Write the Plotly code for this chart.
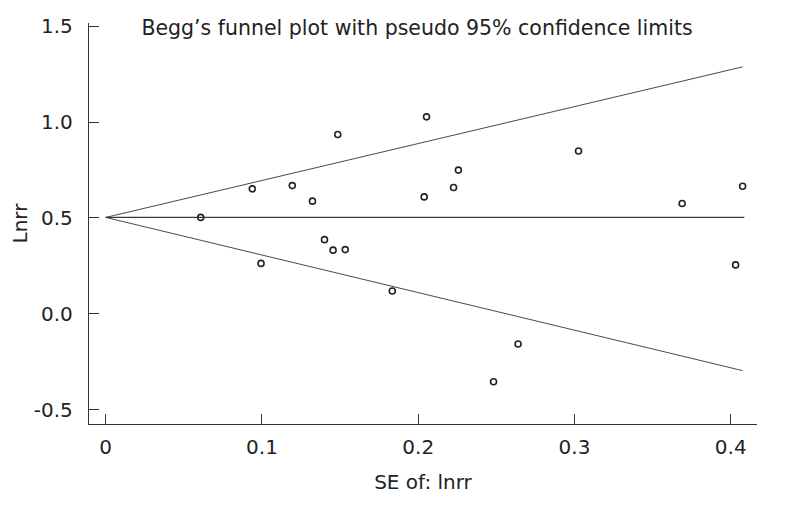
import plotly.graph_objects as go

# study estimates
se = [0.0608, 0.0938, 0.0994, 0.1194, 0.1323, 0.1400, 0.1455, 0.1485, 0.1533, 0.1834,
      0.2038, 0.2053, 0.2226, 0.2257, 0.2482, 0.2639, 0.3026, 0.3689, 0.4031, 0.4076]
lnrr = [0.503, 0.652, 0.263, 0.669, 0.588, 0.387, 0.332, 0.936, 0.335, 0.119,
        0.610, 1.028, 0.659, 0.750, -0.355, -0.158, 0.850, 0.576, 0.255, 0.666]

# pooled estimate and pseudo 95% limits
pooled_se = [0.0, 0.4087]
pooled_val = [0.503, 0.503]
limit_se = [0.0, 0.4076]
upper_limit = [0.503, 1.289]
lower_limit = [0.503, -0.297]

x_ticks = [0, 0.1, 0.2, 0.3, 0.4]
x_tick_text = ["0", "0.1", "0.2", "0.3", "0.4"]
y_ticks = [-0.5, 0.0, 0.5, 1.0, 1.5]
y_tick_text = ["-0.5", "0.0", "0.5", "1.0", "1.5"]

FONT = "DejaVu Sans"
INK = "#222222"

fig = go.Figure()
for yy in (upper_limit, lower_limit):
    fig.add_trace(go.Scatter(x=limit_se, y=yy, mode="lines",
                             line=dict(color="#4a4a4a", width=1), hoverinfo="skip"))
fig.add_trace(go.Scatter(x=pooled_se, y=pooled_val, mode="lines",
                         line=dict(color="#3a3a3a", width=1.3), hoverinfo="skip"))
fig.add_trace(go.Scatter(x=se, y=lnrr, mode="markers",
                         marker=dict(symbol="circle-open", size=6, color="#222222",
                                     line=dict(width=1.6))))

# the page body adds an 8px margin, so the figure is sized to fit inside it
fig.update_layout(
    width=771, height=492,
    paper_bgcolor="white", plot_bgcolor="white",
    showlegend=False,
    margin=dict(l=81, r=22, t=15, b=76),
    font=dict(family=FONT, size=20, color=INK),
    title=dict(text="Begg’s funnel plot with pseudo 95% confidence limits",
               x=0.5305, xanchor="center", y=1 - 20 / 492, yanchor="middle",
               font=dict(family=FONT, size=20.5, color=INK)),
)
fig.update_xaxes(
    range=[-0.0107, 0.4168], tickvals=x_ticks, ticktext=x_tick_text,
    showgrid=False, zeroline=False, showline=True, linecolor="#333333", linewidth=1.3,
    ticks="inside", ticklen=10, tickcolor="#333333", tickwidth=1.2,
    ticklabelstandoff=5, automargin=False,
    tickfont=dict(family=FONT, size=20, color=INK),
    title=dict(text="SE of: lnrr", standoff=16, font=dict(family=FONT, size=20, color=INK)),
)
fig.update_yaxes(
    range=[-0.5756, 1.518], tickvals=y_ticks, ticktext=y_tick_text,
    showgrid=False, zeroline=False, showline=True, linecolor="#333333", linewidth=1.3,
    ticks="inside", ticklen=10, tickcolor="#333333", tickwidth=1.2,
    ticklabelstandoff=11, automargin=False,
    tickfont=dict(family=FONT, size=20, color=INK),
    title=dict(text="Lnrr", standoff=5, font=dict(family=FONT, size=20, color=INK)),
)

fig.write_html("out.html")
